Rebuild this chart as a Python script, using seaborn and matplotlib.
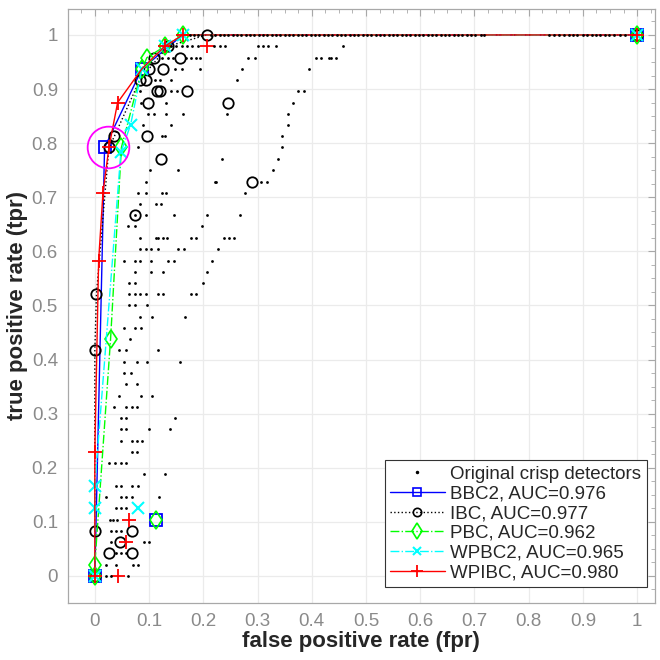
import matplotlib
matplotlib.use("Agg")
import matplotlib.pyplot as plt
from matplotlib.lines import Line2D
from matplotlib.ticker import MultipleLocator
import seaborn as sns
import pandas as pd

# ---------------- data ----------------
# Original crisp detectors (fpr, tpr), listed row by row
dots_fpr = [
    # tpr = 1.0
    0.175, 0.183, 0.190, 0.198, 0.214, 0.222, 0.230, 0.238, 0.246, 0.254, 0.262, 0.270,
    0.278, 0.286, 0.294, 0.302, 0.310, 0.318, 0.326, 0.334, 0.342, 0.350, 0.358, 0.366,
    0.374, 0.382, 0.390, 0.398, 0.406, 0.414, 0.422, 0.430, 0.438, 0.446, 0.454, 0.462,
    0.470, 0.478, 0.486, 0.494, 0.502, 0.510, 0.518, 0.526, 0.534, 0.542, 0.550, 0.558,
    0.566, 0.574, 0.582, 0.590, 0.598, 0.606, 0.614, 0.622, 0.630, 0.638, 0.646, 0.654,
    0.662, 0.670, 0.678, 0.686, 0.694, 0.702, 0.712, 0.718,
    0.838, 0.846, 0.856, 0.866, 0.874, 0.882, 0.890, 0.900, 0.908, 0.916, 0.924, 0.932,
    0.940, 0.948, 0.958, 0.968, 0.978,
    # 0.979
    0.140, 0.150, 0.160, 0.170, 0.180, 0.190, 0.220, 0.230, 0.240, 0.300, 0.310, 0.320, 0.335, 0.457,
    # 0.958
    0.123, 0.135, 0.144, 0.169, 0.178, 0.187, 0.194, 0.283, 0.295, 0.408, 0.418, 0.432, 0.436, 0.444,
    # 0.9375
    0.148, 0.160, 0.194, 0.272, 0.395,
    # 0.917
    0.111, 0.120, 0.141, 0.263,
    # 0.896
    0.083, 0.141, 0.151, 0.375, 0.386,
    # 0.875
    0.086, 0.131, 0.366,
    # 0.854
    0.098, 0.109, 0.132, 0.162, 0.243, 0.357,
    # 0.833
    0.089, 0.140, 0.357,
    # 0.8125
    0.123, 0.129, 0.346,
    # 0.792
    0.080, 0.346,
    # 0.771
    0.235, 0.338,
    # 0.75
    0.101, 0.154, 0.329,
    # 0.729
    0.094, 0.221, 0.224, 0.307, 0.318,
    # 0.708
    0.080, 0.094, 0.123, 0.132, 0.277,
    # 0.6875
    0.083, 0.113, 0.122,
    # 0.667
    0.074, 0.094, 0.146, 0.206, 0.268,
    # 0.646
    0.062, 0.074, 0.197,
    # 0.625
    0.083, 0.113, 0.117, 0.126, 0.134, 0.177, 0.186, 0.238, 0.248, 0.257,
    # 0.604
    0.083, 0.094, 0.103, 0.116, 0.154, 0.164, 0.228,
    # 0.583
    0.054, 0.074, 0.083, 0.103, 0.135, 0.146, 0.216,
    # 0.5625
    0.074, 0.103, 0.125, 0.206,
    # 0.542
    0.063, 0.074, 0.199,
    # 0.521
    0.063, 0.074, 0.083, 0.094, 0.116, 0.125, 0.177, 0.186,
    # 0.5
    0.063, 0.074, 0.097,
    # 0.479
    0.083, 0.106, 0.167,
    # 0.458
    0.054, 0.074, 0.086,
    # 0.4375
    0.065,
    # 0.417
    0.045, 0.058, 0.116,
    # 0.396
    0.054, 0.077, 0.097, 0.157,
    # 0.375
    0.054, 0.066,
    # 0.354
    0.058, 0.078,
    # 0.333
    0.045, 0.086, 0.106,
    # 0.3125
    0.035, 0.058, 0.068, 0.078,
    # 0.292
    0.048, 0.058, 0.148,
    # 0.271
    0.048, 0.058, 0.100, 0.138,
    # 0.25
    0.048, 0.068, 0.078, 0.087,
    # 0.229
    0.068, 0.078,
    # 0.208
    0.026, 0.037, 0.048, 0.058,
    # 0.1875
    0.090, 0.129,
    # 0.167
    0.039, 0.048, 0.068, 0.080,
    # 0.146
    0.020, 0.048, 0.058, 0.069, 0.119,
    # 0.125
    0.039, 0.048, 0.058,
    # 0.104
    0.028, 0.034, 0.041,
    # 0.083
    0.029, 0.039, 0.048,
    # 0.0625
    0.029, 0.090, 0.100,
    # 0.042
    0.039, 0.048, 0.058,
    # 0.021
    0.020, 0.039, 0.071, 0.080,
    # 0.0
    0.020, 0.029, 0.062,
]
dots_tpr = (
    [1.0] * 85 + [0.979] * 14 + [0.958] * 14 + [0.9375] * 5 + [0.917] * 4 + [0.896] * 5
    + [0.875] * 3 + [0.854] * 6 + [0.833] * 3 + [0.8125] * 3 + [0.792] * 2 + [0.771] * 2
    + [0.75] * 3 + [0.729] * 5 + [0.708] * 5 + [0.6875] * 3 + [0.667] * 5 + [0.646] * 3
    + [0.625] * 10 + [0.604] * 7 + [0.583] * 7 + [0.5625] * 4 + [0.542] * 3 + [0.521] * 8
    + [0.5] * 3 + [0.479] * 3 + [0.458] * 3 + [0.4375] * 1 + [0.417] * 3 + [0.396] * 4
    + [0.375] * 2 + [0.354] * 2 + [0.333] * 3 + [0.3125] * 4 + [0.292] * 3 + [0.271] * 4
    + [0.25] * 4 + [0.229] * 2 + [0.208] * 4 + [0.1875] * 2 + [0.167] * 4 + [0.146] * 5
    + [0.125] * 3 + [0.104] * 3 + [0.083] * 3 + [0.0625] * 3 + [0.042] * 3 + [0.021] * 4
    + [0.0] * 3
)

# BBC2
bbc2_line_fpr = [0, 0.018, 0.087, 0.162, 1.0]
bbc2_line_tpr = [0, 0.792, 0.9375, 1.0, 1.0]
bbc2_pts_fpr = [0, 0.018, 0.087, 0.112, 1.0]
bbc2_pts_tpr = [0, 0.792, 0.9375, 0.104, 1.0]

# IBC
ibc_line_fpr = [0, 0, 0, 0.003, 0.026, 0.036, 0.083, 0.100, 0.135, 0.206, 1.0]
ibc_line_tpr = [0, 0.083, 0.417, 0.521, 0.792, 0.8125, 0.917, 0.9375, 0.979, 1.0, 1.0]
ibc_pts_fpr = [0, 0, 0.068, 0.046, 0.026, 0.068, 0, 0.003, 0.074, 0.289, 0.122, 0.026,
               0.036, 0.097, 0.098, 0.245, 0.115, 0.120, 0.170, 0.083, 0.094, 0.100,
               0.126, 0.109, 0.157, 0.135, 0.206, 1.0]
ibc_pts_tpr = [0, 0.083, 0.083, 0.0625, 0.042, 0.042, 0.417, 0.521, 0.667, 0.729, 0.771, 0.792,
               0.8125, 0.8125, 0.875, 0.875, 0.896, 0.896, 0.896, 0.917, 0.917, 0.9375,
               0.9375, 0.958, 0.958, 0.979, 1.0, 1.0]

# PBC
pbc_line_fpr = [0, 0, 0.029, 0.049, 0.087, 0.096, 0.129, 0.162, 1.0]
pbc_line_tpr = [0, 0.021, 0.4375, 0.792, 0.9375, 0.958, 0.979, 1.0, 1.0]
pbc_pts_fpr = [0, 0, 0.112, 0.029, 0.049, 0.087, 0.096, 0.129, 0.162, 1.0]
pbc_pts_tpr = [0, 0.021, 0.104, 0.4375, 0.792, 0.9375, 0.958, 0.979, 1.0, 1.0]

# WPBC2
wpbc2_line_fpr = [0, 0, 0, 0.048, 0.066, 0.087, 0.129, 0.162, 1.0]
wpbc2_line_tpr = [0, 0.125, 0.167, 0.783, 0.834, 0.9375, 0.979, 1.0, 1.0]
wpbc2_pts_fpr = [0, 0, 0, 0.080, 0.048, 0.066, 0.087, 0.129, 0.162, 1.0]
wpbc2_pts_tpr = [0, 0.125, 0.167, 0.125, 0.783, 0.834, 0.9375, 0.979, 1.0, 1.0]

# WPIBC
wpibc_line_fpr = [0, 0, 0.007, 0.015, 0.026, 0.042, 0.087, 0.129, 0.162, 1.0]
wpibc_line_tpr = [0, 0.229, 0.583, 0.708, 0.792, 0.875, 0.9375, 0.979, 1.0, 1.0]
wpibc_pts_fpr = [0, 0.043, 0.057, 0.063, 0, 0.007, 0.015, 0.026, 0.042, 0.129, 0.206, 0.162, 1.0]
wpibc_pts_tpr = [0, 0, 0.0625, 0.104, 0.229, 0.583, 0.708, 0.792, 0.875, 0.979, 0.979, 1.0, 1.0]

highlight_fpr = [0.025]
highlight_tpr = [0.793]

legend_labels = ["Original crisp detectors", "BBC2, AUC=0.976", "IBC, AUC=0.977",
                 "PBC, AUC=0.962", "WPBC2, AUC=0.965", "WPIBC, AUC=0.980"]

x_ticks = [0, 0.1, 0.2, 0.3, 0.4, 0.5, 0.6, 0.7, 0.8, 0.9, 1]
y_ticks = [0, 0.1, 0.2, 0.3, 0.4, 0.5, 0.6, 0.7, 0.8, 0.9, 1]
x_ticklabels = ["0", "0.1", "0.2", "0.3", "0.4", "0.5", "0.6", "0.7", "0.8", "0.9", "1"]
y_ticklabels = ["0", "0.1", "0.2", "0.3", "0.4", "0.5", "0.6", "0.7", "0.8", "0.9", "1"]

# ---------------- style ----------------
sns.set_style("white")
plt.rcParams["font.family"] = ["Liberation Sans", "DejaVu Sans"]

GREY_TXT = "#8a8a8a"
GREY_AX = "#a8a8a8"

fig = plt.figure(figsize=(6.6, 6.6), dpi=100)
ax = fig.add_axes([0.1026, 0.0864, 0.8898, 0.900])

series = [
    (bbc2_line_fpr, bbc2_line_tpr, bbc2_pts_fpr, bbc2_pts_tpr, "#0000ff", "-", "s", 9, 1.3),
    (ibc_line_fpr, ibc_line_tpr, ibc_pts_fpr, ibc_pts_tpr, "black", ":", "o", 7.5, 1.3),
    (pbc_line_fpr, pbc_line_tpr, pbc_pts_fpr, pbc_pts_tpr, "#00ff00", "-.", "d", 9.5, 1.2),
    (wpbc2_line_fpr, wpbc2_line_tpr, wpbc2_pts_fpr, wpbc2_pts_tpr, "#00ffff", "-.", "x", 8, 1.5),
    (wpibc_line_fpr, wpibc_line_tpr, wpibc_pts_fpr, wpibc_pts_tpr, "#ff0000", "-", "+", 10, 1.3),
]

for lf, lt, pf, pt, col, ls, mk, ms, mew in series:
    sns.lineplot(x=lf, y=lt, ax=ax, estimator=None, sort=False, color=col,
                 linestyle=ls, linewidth=1.0, legend=False)
    sns.lineplot(x=pf, y=pt, ax=ax, estimator=None, sort=False, color=col,
                 linestyle="none", marker=mk, markersize=ms, markeredgewidth=mew,
                 markerfacecolor="none", markeredgecolor=col, legend=False)

# dots (on top, as in the original)
dots_df = pd.DataFrame({"fpr": dots_fpr, "tpr": dots_tpr})
sns.lineplot(data=dots_df, x="fpr", y="tpr", ax=ax, estimator=None, sort=False,
             linestyle="none", marker=".", markersize=4, color="black",
             markeredgewidth=0, legend=False, zorder=5)

sns.lineplot(x=highlight_fpr, y=highlight_tpr, ax=ax, estimator=None, linestyle="none",
             marker="o", markersize=30, markerfacecolor="none", markeredgecolor="#ff00ff",
             markeredgewidth=1.3, legend=False, zorder=6)

# axes
ax.set_xlim(-0.05, 1.033)
ax.set_ylim(-0.05, 1.048)
ax.set_xticks(x_ticks)
ax.set_xticklabels(x_ticklabels)
ax.set_yticks(y_ticks)
ax.set_yticklabels(y_ticklabels)
ax.xaxis.set_minor_locator(MultipleLocator(0.025))
ax.yaxis.set_minor_locator(MultipleLocator(0.025))
ax.grid(True, which="major", color="#ebebeb", linewidth=0.9)
ax.set_axisbelow(True)
ax.tick_params(which="both", direction="in", top=True, right=True, colors=GREY_AX,
               labelcolor=GREY_TXT, labelsize=13.5)
ax.tick_params(which="major", length=5, width=0.8, pad=7)
ax.tick_params(which="minor", length=3, width=0.6)
for s in ax.spines.values():
    s.set_color(GREY_AX)
    s.set_linewidth(0.9)

ax.set_xlabel("false positive rate (fpr)", fontsize=16, fontweight="bold", labelpad=1)
ax.set_ylabel("true positive rate (tpr)", fontsize=16, fontweight="bold", labelpad=3)

handles = [
    Line2D([], [], linestyle="none", marker=".", markersize=3, color="black"),
    Line2D([], [], color="#0000ff", linestyle="-", marker="s", markersize=6,
           markerfacecolor="none", markeredgewidth=1.2, linewidth=1.0),
    Line2D([], [], color="black", linestyle=":", marker="o", markersize=6,
           markerfacecolor="none", markeredgewidth=1.2, linewidth=1.0),
    Line2D([], [], color="#00ff00", linestyle="-.", marker="d", markersize=8,
           markerfacecolor="none", markeredgewidth=1.2, linewidth=1.0),
    Line2D([], [], color="#00ffff", linestyle="-.", marker="x", markersize=6,
           markerfacecolor="none", markeredgewidth=1.5, linewidth=1.0),
    Line2D([], [], color="#ff0000", linestyle="-", marker="+", markersize=8,
           markeredgewidth=1.3, linewidth=1.0),
]
leg = ax.legend(handles, legend_labels, loc="lower right", bbox_to_anchor=(0.986, 0.027),
                fontsize=13.5, frameon=True, fancybox=False, framealpha=1,
                edgecolor="#333333", labelspacing=0.14, handlelength=2.9,
                handletextpad=0.3, borderpad=0.3, borderaxespad=0)
leg.get_frame().set_linewidth(0.8)
leg.set_zorder(10)

fig.savefig("out.png", dpi=100)
